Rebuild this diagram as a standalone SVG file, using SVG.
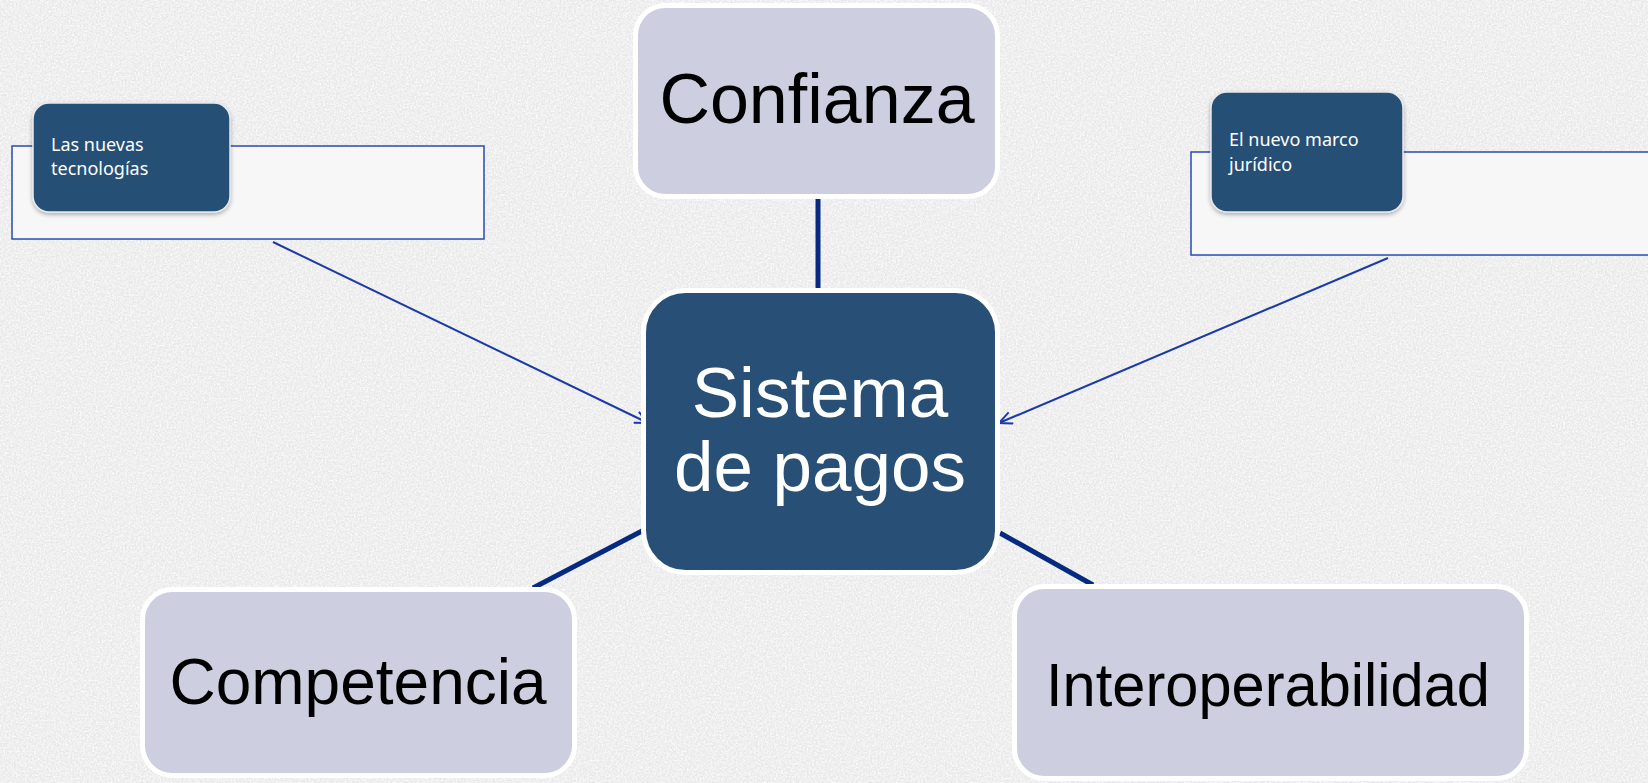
<svg xmlns="http://www.w3.org/2000/svg" width="1648" height="783" viewBox="0 0 1648 783">
<style>
.bigtxt{font-family:"Liberation Sans",Arial,sans-serif;text-anchor:middle}
.dark{fill:#284f75;stroke:#ffffff;stroke-width:5}
.light{fill:#cdcee0;stroke:#ffffff;stroke-width:5}
.tab{fill:#284f75;stroke:#e8e8ee;stroke-width:1.5;filter:url(#shadow)}
.panel{fill:#f7f7f7;stroke:#2a4bb0;stroke-width:1.5}
.tabtxt{font-family:"Noto Sans","Open Sans",sans-serif;font-size:18px;fill:#ffffff}
.thick{stroke:#062a80;stroke-width:5;fill:none}
.thin{stroke:#1b3aa6;stroke-width:2;fill:none;marker-end:url(#arr)}
</style>
<defs>
<filter id="paper" x="0" y="0" width="100%" height="100%">
<feTurbulence type="fractalNoise" baseFrequency="0.55" numOctaves="3" seed="4" result="n"/>
<feColorMatrix in="n" type="matrix" values="0 0 0 0 1 0 0 0 0 1 0 0 0 0 1 0 0 0 -1.6 1.1" result="w"/>
<feComposite in="w" in2="SourceGraphic" operator="atop"/>
</filter>
<filter id="shadow" x="-10%" y="-10%" width="120%" height="130%">
<feDropShadow dx="0" dy="2" stdDeviation="2" flood-color="#000" flood-opacity="0.3"/>
</filter>
<marker id="arr" markerUnits="userSpaceOnUse" markerWidth="20" markerHeight="20" refX="14" refY="7" orient="auto">
<path d="M1,1 L14,7 L1,13" fill="none" stroke="#1b3aa6" stroke-width="2"/>
</marker>
</defs>
<rect id="background" x="0" y="0" width="1648" height="783" fill="#e8e8e8" filter="url(#paper)"/>

<g id="connectors">
<line class="thick" x1="818" y1="198" x2="818" y2="290"/>
<line class="thick" x1="642" y1="531" x2="533" y2="588"/>
<line class="thick" x1="1000" y1="533" x2="1093" y2="585"/>
<line class="thin" x1="273" y1="242" x2="648" y2="423"/>
<line class="thin" x1="1388" y1="258" x2="999" y2="423"/>
</g>

<g id="node-nuevas-tecnologias">
<rect class="panel" x="12" y="146" width="472" height="93"/>
<rect class="tab" x="33" y="103" width="197" height="109" rx="16"/>
<text class="tabtxt" x="51" y="151">Las nuevas</text>
<text class="tabtxt" x="51" y="175">tecnologías</text>
</g>

<g id="node-marco-juridico">
<rect class="panel" x="1191" y="152" width="470" height="103"/>
<rect class="tab" x="1211" y="92" width="192" height="120" rx="16"/>
<text class="tabtxt" x="1229" y="146">El nuevo marco</text>
<text class="tabtxt" x="1229" y="171">jurídico</text>
</g>

<g id="node-confianza">
<rect class="light" x="635.5" y="5.5" width="362" height="191" rx="30"/>
<text class="bigtxt" x="817" y="123" font-size="70" fill="#000">Confianza</text>
</g>

<g id="node-sistema-de-pagos">
<rect class="dark" x="643.5" y="290.5" width="354" height="282" rx="42"/>
<text class="bigtxt" x="820" y="417" font-size="71" fill="#ffffff">Sistema</text>
<text class="bigtxt" x="820" y="491" font-size="71" fill="#ffffff">de pagos</text>
</g>

<g id="node-competencia">
<rect class="light" x="142.5" y="589.5" width="432" height="186" rx="30"/>
<text class="bigtxt" x="358" y="704" font-size="64" fill="#000">Competencia</text>
</g>

<g id="node-interoperabilidad">
<rect class="light" x="1014.5" y="586.5" width="512" height="192" rx="30"/>
<text class="bigtxt" x="1268" y="706" font-size="62" fill="#000" textLength="444" lengthAdjust="spacingAndGlyphs">Interoperabilidad</text>
</g>
</svg>
